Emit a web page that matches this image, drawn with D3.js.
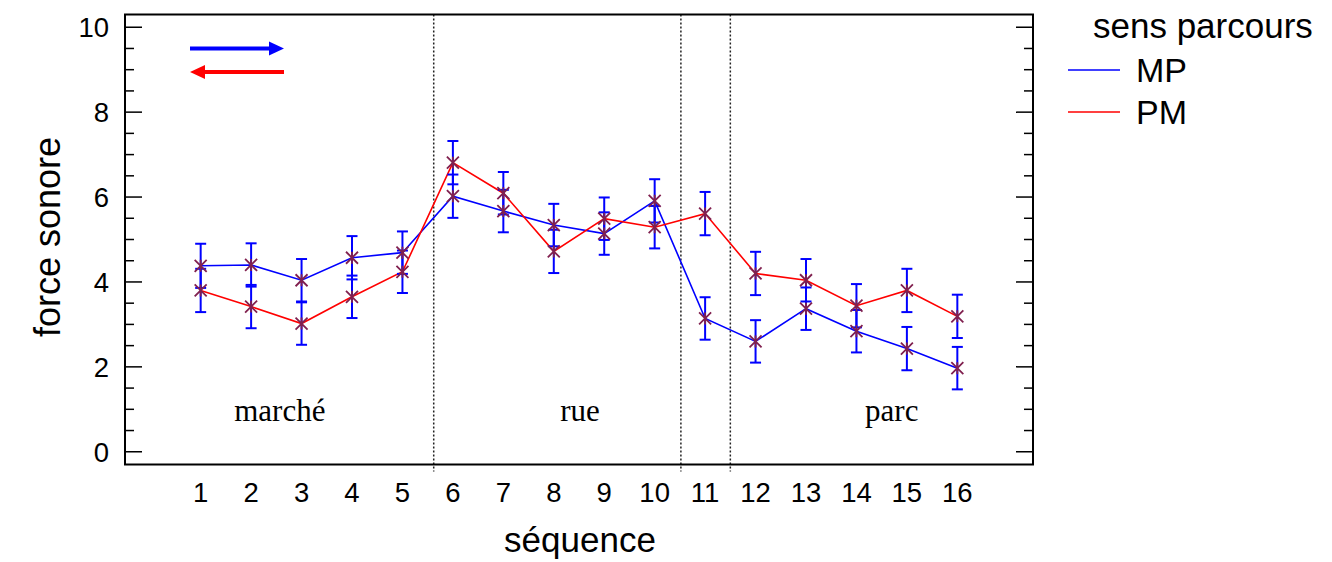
<!DOCTYPE html>
<html>
<head>
<meta charset="utf-8">
<script src="https://cdn.jsdelivr.net/npm/d3@7"></script>
<style>
  body { margin: 0; background: #fff; }
  text { font-family: Arial, "Liberation Sans", sans-serif; }
</style>
</head>
<body>
<div id="chart"></div>
<script>
// data
const sequences = [1, 2, 3, 4, 5, 6, 7, 8, 9, 10, 11, 12, 13, 14, 15, 16];
const mpValues = [4.38, 4.40, 4.04, 4.57, 4.69, 6.02, 5.67, 5.34, 5.14, 5.91, 3.14, 2.60, 3.37, 2.84, 2.43, 1.97];
const pmValues = [3.80, 3.42, 3.02, 3.65, 4.24, 6.81, 6.09, 4.72, 5.49, 5.29, 5.61, 4.20, 4.04, 3.44, 3.80, 3.19];
const mpErr = [0.52, 0.51, 0.5, 0.51, 0.5, 0.51, 0.5, 0.5, 0.5, 0.51, 0.5, 0.5, 0.5, 0.5, 0.51, 0.5];
const pmErr = [0.51, 0.51, 0.5, 0.5, 0.5, 0.51, 0.5, 0.51, 0.5, 0.5, 0.51, 0.51, 0.5, 0.51, 0.51, 0.51];
const yTicks = [0, 2, 4, 6, 8, 10];
const separators = [5.62, 10.52, 11.5];
const zones = [
  { name: "marché", x: 2.57 },
  { name: "rue", x: 8.52 },
  { name: "parc", x: 14.7 }
];
const seriesNames = ["MP", "PM"];
const seriesColors = ["#0000ff", "#ff0000"];

const W = 1332, H = 562;
const plotL = 125, plotR = 1033, plotT = 14.5, plotB = 464.5;

const svg = d3.select("#chart").append("svg")
  .attr("width", W)
  .attr("height", H);

const x = d3.scaleLinear().domain([-0.5, 17.5]).range([plotL, plotR]);
const y = d3.scaleLinear().domain([-0.3, 10.3]).range([plotB, plotT]);

// dotted separators
svg.selectAll(".sep")
  .data(separators)
  .enter()
  .append("line")
  .attr("x1", d => x(d))
  .attr("x2", d => x(d))
  .attr("y1", plotT)
  .attr("y2", plotB + 7)
  .attr("stroke", "#222")
  .attr("stroke-width", 1.5)
  .attr("stroke-dasharray", "2,2");

// frame
svg.append("rect")
  .attr("x", plotL)
  .attr("y", plotT)
  .attr("width", plotR - plotL)
  .attr("height", plotB - plotT)
  .attr("fill", "none")
  .attr("stroke", "#000")
  .attr("stroke-width", 2);

// y ticks, inside on both sides
const minor = d3.range(0, 10.01, 0.5);
minor.forEach(function (v) {
  const isMajor = Math.abs(v % 2) < 1e-6;
  const len = isMajor ? 17 : 9;
  svg.append("line")
    .attr("x1", plotL).attr("x2", plotL + len)
    .attr("y1", y(v)).attr("y2", y(v))
    .attr("stroke", "#000").attr("stroke-width", 1.5);
  svg.append("line")
    .attr("x1", plotR).attr("x2", plotR - len)
    .attr("y1", y(v)).attr("y2", y(v))
    .attr("stroke", "#000").attr("stroke-width", 1.5);
});

svg.selectAll(".ylab")
  .data(yTicks)
  .enter()
  .append("text")
  .attr("x", 109)
  .attr("y", d => y(d))
  .attr("dy", "0.36em")
  .attr("text-anchor", "end")
  .attr("font-size", 27.5)
  .text(d => d);

svg.selectAll(".xlab")
  .data(sequences)
  .enter()
  .append("text")
  .attr("x", d => x(d))
  .attr("y", 502)
  .attr("text-anchor", "middle")
  .attr("font-size", 27.5)
  .text(d => d);

// axis titles
svg.append("text")
  .attr("x", x(8.52))
  .attr("y", 552)
  .attr("text-anchor", "middle")
  .attr("font-size", 35)
  .text("séquence");

svg.append("text")
  .attr("transform", "translate(60,237) rotate(-90)")
  .attr("text-anchor", "middle")
  .attr("font-size", 36)
  .text("force sonore");

// zone names
svg.selectAll(".zone")
  .data(zones)
  .enter()
  .append("text")
  .attr("x", d => x(d.x))
  .attr("y", 421)
  .attr("text-anchor", "middle")
  .attr("font-size", 31)
  .style("font-family", "'Times New Roman', 'Liberation Serif', serif")
  .text(d => d.name);

// direction arrows
function arrow(x1, x2, yy, color) {
  const dir = x2 > x1 ? 1 : -1;
  const head = 15;
  svg.append("line")
    .attr("x1", x1).attr("x2", x2 - dir * head)
    .attr("y1", yy).attr("y2", yy)
    .attr("stroke", color).attr("stroke-width", 4);
  svg.append("path")
    .attr("d", "M" + x2 + "," + yy + " L" + (x2 - dir * head) + "," + (yy - 7) +
      " L" + (x2 - dir * head) + "," + (yy + 7) + " Z")
    .attr("fill", color);
}
arrow(190, 284, 48.5, "#0000ff");
arrow(284, 190, 72, "#ff0000");

// series
const series = [
  { name: "MP", values: mpValues, err: mpErr, color: seriesColors[0] },
  { name: "PM", values: pmValues, err: pmErr, color: seriesColors[1] }
];

const line = d3.line()
  .x((d, i) => x(sequences[i]))
  .y(d => y(d));

series.forEach(function (s) {
  svg.append("path")
    .datum(s.values)
    .attr("d", line)
    .attr("fill", "none")
    .attr("stroke", s.color)
    .attr("stroke-width", 1.6);
});

// error bars (all blue)
series.forEach(function (s) {
  const g = svg.append("g").attr("stroke", "#0000ff").attr("stroke-width", 2);
  s.values.forEach(function (v, i) {
    const cx = x(sequences[i]);
    const lo = y(v - s.err[i]), hi = y(v + s.err[i]);
    g.append("line").attr("x1", cx).attr("x2", cx).attr("y1", lo).attr("y2", hi);
    g.append("line").attr("x1", cx - 5.5).attr("x2", cx + 5.5).attr("y1", lo).attr("y2", lo);
    g.append("line").attr("x1", cx - 5.5).attr("x2", cx + 5.5).attr("y1", hi).attr("y2", hi);
  });
});

// star markers
series.forEach(function (s) {
  s.values.forEach(function (v, i) {
    const cx = x(sequences[i]), cy = y(v), r = 6;
    svg.append("path")
      .attr("d", "M" + (cx - r) + "," + (cy - r) + "L" + (cx + r) + "," + (cy + r) +
        "M" + (cx - r) + "," + (cy + r) + "L" + (cx + r) + "," + (cy - r) +
        "M" + cx + "," + (cy - r) + "L" + cx + "," + (cy + r))
      .attr("stroke", "#80204f")
      .attr("stroke-width", 1.8)
      .attr("fill", "none");
  });
});

// legend
svg.append("text")
  .attr("x", 1093)
  .attr("y", 38)
  .attr("font-size", 35)
  .text("sens parcours");

seriesNames.forEach(function (name, i) {
  const ly = 70 + i * 42;
  svg.append("line")
    .attr("x1", 1068).attr("x2", 1120)
    .attr("y1", ly).attr("y2", ly)
    .attr("stroke", seriesColors[i])
    .attr("stroke-width", 1.3);
  svg.append("text")
    .attr("x", 1136)
    .attr("y", ly + 12)
    .attr("font-size", 34)
    .text(name);
});
</script>
</body>
</html>
